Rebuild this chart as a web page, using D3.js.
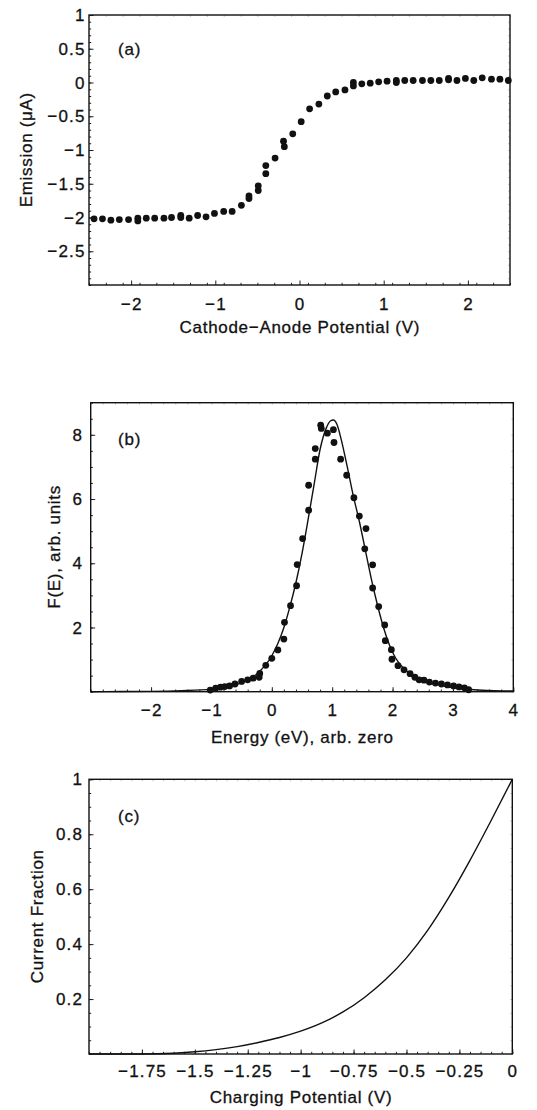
<!DOCTYPE html>
<html>
<head>
<meta charset="utf-8">
<script src="https://cdn.jsdelivr.net/npm/d3@7"></script>
<style>
html,body{margin:0;padding:0;background:#fff;}
svg{display:block;}
text{font-family:"Liberation Sans",Arial,Helvetica,sans-serif;fill:#111;stroke:#111;stroke-width:0.3px;}
</style>
</head>
<body>
<svg id="chart" width="537" height="1110"></svg>
<script>
// ---------- Panel (a) data: emission vs cathode-anode potential ----------
const aX = [-2.44,-2.34,-2.24,-2.14,-2.03,-1.92,-1.92,-1.82,-1.72,-1.61,-1.52,-1.41,-1.41,-1.31,-1.21,-1.11,-1.01,-0.90,-0.80,-0.69,-0.60,-0.60,-0.49,-0.49,-0.40,-0.40,-0.29,-0.19,-0.18,-0.08,0.02,0.12,0.23,0.33,0.43,0.54,0.64,0.64,0.74,0.84,0.94,1.04,1.15,1.15,1.25,1.35,1.46,1.56,1.66,1.77,1.77,1.87,1.97,2.07,2.17,2.28,2.38,2.48];
const aY = [-2.02,-2.02,-2.04,-2.03,-2.03,-2.01,-2.05,-2.01,-2.01,-2.01,-2.00,-1.97,-2.00,-2.01,-1.97,-1.99,-1.94,-1.91,-1.91,-1.82,-1.68,-1.72,-1.53,-1.60,-1.23,-1.35,-1.12,-0.87,-0.95,-0.76,-0.58,-0.39,-0.32,-0.20,-0.14,-0.11,0.00,-0.05,-0.02,-0.01,0.01,0.02,0.03,0.00,0.03,0.03,0.03,0.03,0.03,0.06,0.04,0.03,0.06,0.03,0.07,0.05,0.05,0.03];
const aXTicks = [-2,-1,0,1,2];
const aYTicks = [1,0.5,0,-0.5,-1,-1.5,-2,-2.5];

// ---------- Panel (b) data: energy distribution F(E) ----------
const bX = [-1.02,-0.93,-0.85,-0.78,-0.70,-0.61,-0.50,-0.40,-0.31,-0.21,-0.20,-0.10,0.00,0.10,0.20,0.21,0.31,0.41,0.42,0.51,0.61,0.61,0.72,0.72,0.81,0.82,0.92,1.02,1.03,1.14,1.24,1.36,1.45,1.56,1.54,1.67,1.67,1.77,1.87,1.88,1.98,1.99,2.09,2.19,2.29,2.37,2.44,2.52,2.61,2.71,2.81,2.91,3.01,3.10,3.19,3.26];
const bY = [0.05,0.11,0.14,0.16,0.18,0.24,0.32,0.37,0.42,0.45,0.57,0.82,1.04,1.30,1.64,2.16,2.68,3.30,3.96,4.77,5.65,6.43,7.24,7.57,8.30,8.20,8.05,8.16,7.76,7.24,6.74,6.04,5.47,5.08,4.45,3.95,3.23,2.65,2.08,1.59,1.31,1.01,0.81,0.68,0.56,0.45,0.37,0.36,0.30,0.27,0.24,0.21,0.18,0.15,0.12,0.06];
const bFitX = [-3,-2.5,-2,-1.5,-1,-0.75,-0.5,-0.25,0,0.1,0.2,0.3,0.4,0.5,0.6,0.7,0.8,0.9,0.97,1.02,1.08,1.15,1.25,1.35,1.45,1.55,1.65,1.75,1.85,1.95,2.05,2.2,2.4,2.6,2.8,3.0,3.3,3.6,4.0];
const bFitY = [0.0,0.005,0.01,0.03,0.08,0.15,0.28,0.55,1.12,1.5,2.0,2.65,3.4,4.3,5.35,6.45,7.55,8.2,8.43,8.46,8.32,7.85,7.0,6.1,5.3,4.4,3.5,2.7,2.0,1.45,1.05,0.7,0.42,0.28,0.2,0.13,0.07,0.04,0.02];
const bXTicks = [-2,-1,0,1,2,3,4];
const bYTicks = [2,4,6,8];

// ---------- Panel (c) data: current fraction vs charging potential ----------
const cX = [-2.0,-1.75,-1.6,-1.5,-1.4,-1.3,-1.2,-1.1,-1.0,-0.9,-0.8,-0.7,-0.6,-0.5,-0.4,-0.3,-0.2,-0.1,0.0];
const cY = [0.0,0.0,0.003,0.008,0.016,0.027,0.042,0.060,0.083,0.113,0.153,0.205,0.27,0.35,0.45,0.57,0.705,0.85,1.0];
const cXTicks = [-1.75,-1.5,-1.25,-1,-0.75,-0.5,-0.25,0];
const cYTicks = [1,0.8,0.6,0.4,0.2];

const svg = d3.select("#chart");
svg.append("rect").attr("width",537).attr("height",1110).attr("fill","#fff").attr("stroke","none");

const fmt = v => (v < 0 ? "\u2212" : "") + String(Math.abs(+v.toFixed(2)));
const TLS = 1.2;   // tick-label letter spacing
const TTLS = 0.7;  // title letter spacing

function panel(cfg) {
  const x = d3.scaleLinear().domain(cfg.xDom).range([cfg.left, cfg.right]);
  const y = d3.scaleLinear().domain(cfg.yDom).range([cfg.bottom, cfg.top]);
  const g = svg.append("g");

  const minorX = d3.range(cfg.xDom[0], cfg.xDom[1] + 1e-9, cfg.xMinor).map(v => +v.toFixed(4));
  const minorY = d3.range(cfg.yDom[0], cfg.yDom[1] + 1e-9, cfg.yMinor).map(v => +v.toFixed(4));

  const bx = g.append("g").attr("transform", `translate(0,${cfg.bottom})`)
    .call(d3.axisBottom(x).tickValues(minorX).tickSize(-2.2).tickFormat(""));
  const bxMaj = g.append("g").attr("transform", `translate(0,${cfg.bottom})`)
    .call(d3.axisBottom(x).tickValues(cfg.xTicks).tickSize(-4.5).tickFormat(""));
  const ly = g.append("g").attr("transform", `translate(${cfg.left},0)`)
    .call(d3.axisLeft(y).tickValues(minorY).tickSize(-2.2).tickFormat(""));
  const lyMaj = g.append("g").attr("transform", `translate(${cfg.left},0)`)
    .call(d3.axisLeft(y).tickValues(cfg.yTicks).tickSize(-4.5).tickFormat(""));
  const tx = g.append("g").attr("transform", `translate(0,${cfg.top})`)
    .call(d3.axisTop(x).tickValues(minorX).tickSize(-2).tickFormat(""));
  const ry = g.append("g").attr("transform", `translate(${cfg.right},0)`)
    .call(d3.axisRight(y).tickValues(minorY).tickSize(-2).tickFormat(""));
  [bx,bxMaj,ly,lyMaj].forEach(a => { a.select(".domain").remove(); a.selectAll("line").attr("stroke","#222").attr("stroke-width",1); });
  [tx,ry].forEach(a => { a.select(".domain").remove(); a.selectAll("line").attr("stroke","#bbb").attr("stroke-width",0.8); });

  g.append("g").selectAll("text").data(cfg.xTicks).join("text")
    .attr("x", d => x(d) + TLS/2).attr("y", cfg.xLabY)
    .attr("text-anchor","middle").attr("font-size",17).attr("letter-spacing",TLS)
    .text(fmt);
  g.append("g").selectAll("text").data(cfg.yTicks).join("text")
    .attr("x", cfg.yLabX + TLS).attr("y", d => y(d)).attr("dy","0.36em")
    .attr("text-anchor","end").attr("font-size",17).attr("letter-spacing",TLS)
    .text(fmt);

  g.append("rect").attr("x",cfg.left).attr("y",cfg.top)
    .attr("width",cfg.right-cfg.left).attr("height",cfg.bottom-cfg.top)
    .attr("fill","none").attr("stroke","#111").attr("stroke-width",1.4);

  g.append("text").attr("x",(cfg.left+cfg.right)/2 + TTLS/2).attr("y",cfg.xTitleY)
    .attr("text-anchor","middle").attr("font-size",17).attr("letter-spacing",TTLS)
    .text(cfg.xTitle);
  g.append("text").attr("transform",`translate(${cfg.yTitleX},${(cfg.top+cfg.bottom)/2 - TTLS/2}) rotate(-90)`)
    .attr("text-anchor","middle").attr("font-size",17).attr("letter-spacing",TTLS)
    .text(cfg.yTitle);
  g.append("text").attr("x",118).attr("y",cfg.tagY).attr("font-size",17).attr("letter-spacing",0.8)
    .text(cfg.tag);

  return {g, x, y};
}

// Panel (a)
const pa = panel({left:89,right:510,top:15,bottom:285,xDom:[-2.5,2.5],yDom:[-3,1],
  xTicks:aXTicks,yTicks:aYTicks,xMinor:0.2,yMinor:0.1,xLabY:310,yLabX:84.5,
  xTitle:"Cathode\u2212Anode Potential (V)",xTitleY:333,yTitle:"Emission (\u03bcA)",yTitleX:31.5,
  tag:"(a)",tagY:55});
pa.g.append("g").selectAll("circle").data(aX).join("circle")
  .attr("cx",(d)=>pa.x(d)).attr("cy",(d,i)=>pa.y(aY[i])).attr("r",3.4).attr("fill","#111");

// Panel (b)
const pb = panel({left:90.7,right:513.3,top:402.7,bottom:691.7,xDom:[-3,4],yDom:[0,9],
  xTicks:bXTicks,yTicks:bYTicks,xMinor:0.2,yMinor:0.5,xLabY:716,yLabX:82,
  xTitle:"Energy (eV), arb. zero",xTitleY:742.5,yTitle:"F(E), arb. units",yTitleX:60,
  tag:"(b)",tagY:445});
pb.g.append("path").datum(bFitX.map((d,i)=>[d,bFitY[i]]))
  .attr("d", d3.line().x(d=>pb.x(d[0])).y(d=>pb.y(d[1])).curve(d3.curveMonotoneX))
  .attr("fill","none").attr("stroke","#111").attr("stroke-width",1.4);
pb.g.append("g").selectAll("circle").data(bX).join("circle")
  .attr("cx",(d)=>pb.x(d)).attr("cy",(d,i)=>pb.y(bY[i])).attr("r",3.4).attr("fill","#111");

// Panel (c)
const pc = panel({left:89,right:512.3,top:779.3,bottom:1054,xDom:[-2,0],yDom:[0,1],
  xTicks:cXTicks,yTicks:cYTicks,xMinor:0.05,yMinor:0.05,xLabY:1077,yLabX:82,
  xTitle:"Charging Potential (V)",xTitleY:1103,yTitle:"Current Fraction",yTitleX:42.5,
  tag:"(c)",tagY:822});
pc.g.append("path").datum(cX.map((d,i)=>[d,cY[i]]))
  .attr("d", d3.line().x(d=>pc.x(d[0])).y(d=>pc.y(d[1])).curve(d3.curveMonotoneX))
  .attr("fill","none").attr("stroke","#111").attr("stroke-width",1.4);
</script>
</body>
</html>
